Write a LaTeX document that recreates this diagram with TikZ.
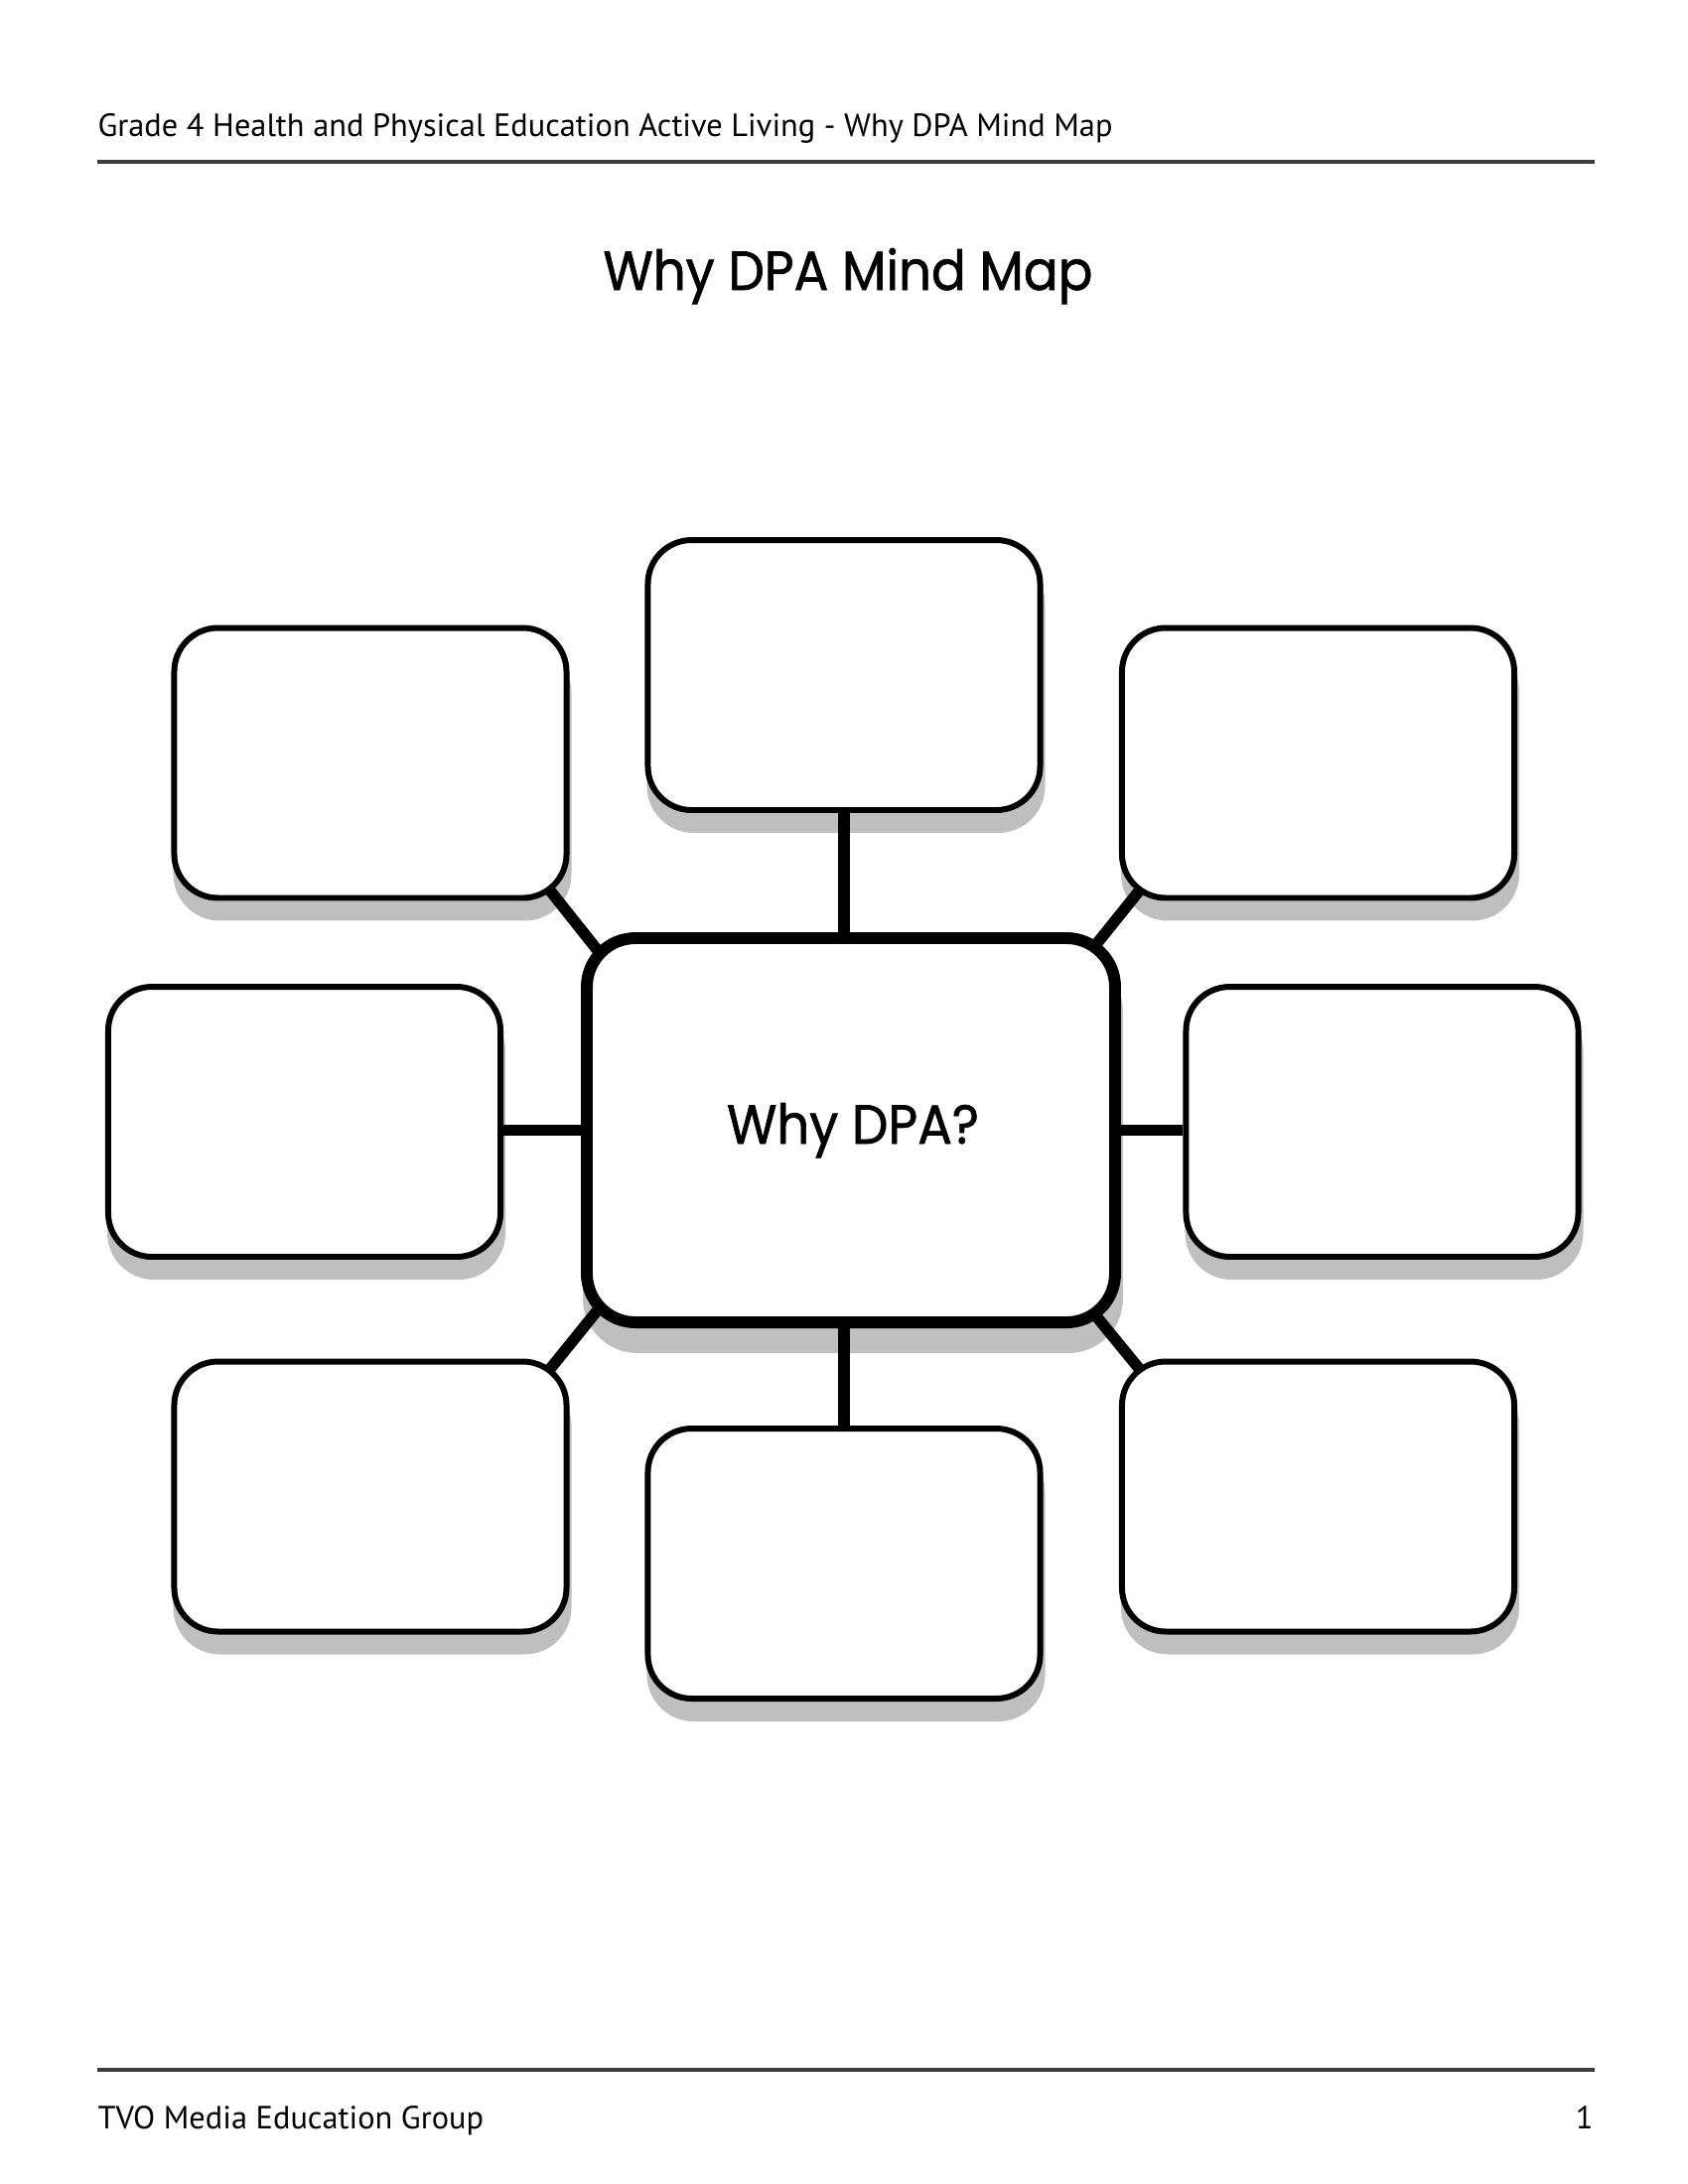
\documentclass[tikz,border=0pt]{standalone}
\usepackage{fontspec}
\setmainfont{PT Sans}
\newfontfamily\geo{Poppins}[FakeBold=1.2, FakeStretch=0.93]
\usetikzlibrary{calc}
\definecolor{shgray}{HTML}{BFBFBF}
\definecolor{rulegray}{HTML}{3C3C3C}
\pgfdeclarelayer{shadow}
\pgfdeclarelayer{lines}
\pgfsetlayers{shadow,lines,main}
\begin{document}
\begin{tikzpicture}[x=0.127mm,y=-0.127mm,
  box/.style={draw=black, fill=white, line width=2.16pt, rounded corners=5.59mm,
    minimum width=50.17mm, minimum height=34.54mm, inner sep=0pt},
  hub/.style={draw=black, fill=white, line width=4.32pt, rounded corners=6.22mm,
    minimum width=67.56mm, minimum height=49.15mm, inner sep=0pt},
  link/.style={line width=4.1pt, draw=black},
  rulex/.style={line width=1.2pt, draw=rulegray},
  hdrtext/.style={inner sep=0pt, font=\fontsize{11.7}{14}\selectfont},
  geotext/.style={inner sep=0pt, font=\geo\fontsize{20}{24}\selectfont}]
\useasboundingbox (0,0) rectangle (1700,2200);

% header and footer
\node[hdrtext, anchor=base west] (hdr) at (98,137) {Grade 4 Health and Physical Education Active Living - Why DPA Mind Map};
\coordinate (hl1) at (98,163);
\coordinate (hl2) at (1606,163);
\draw[rulex] (hl1) -- (hl2);
\coordinate (fl1) at (98,2085);
\coordinate (fl2) at (1606,2085);
\draw[rulex] (fl1) -- (fl2);
\node[hdrtext, anchor=base west] (ftr) at (98,2144) {TVO Media Education Group};
\node[hdrtext, anchor=base east] (pg) at (1605,2144) {1};

% title
\node[geotext, anchor=base] (title) at (854,292) {Why DPA Mind Map};

% boxes
\node[hub] (c) at (857,1138.5) {};
\node[geotext, anchor=base] (ctext) at (859,1152) {Why DPA?};
\node[box] (t)  at (850,680) {};
\node[box] (b)  at (850,1575) {};
\node[box] (tl) at (373,768.5) {};
\node[box] (tr) at (1327.5,768.5) {};
\node[box] (l)  at (306.5,1130) {};
\node[box] (r)  at (1392,1130) {};
\node[box] (bl) at (373,1507.5) {};
\node[box] (br) at (1327.5,1507.5) {};

% shadows
\begin{pgfonlayer}{shadow}
  \foreach \n in {t,b,tl,tr,l,r,bl,br} {
    \fill[shgray, rounded corners=5.97mm] ($(\n.north west)+(2,20)$) rectangle ($(\n.south east)+(2,20)$);
  }
  \fill[shgray, rounded corners=6.98mm] ($(c.north west)+(2,25)$) rectangle ($(c.south east)+(2,25)$);
\end{pgfonlayer}

% connectors
\begin{pgfonlayer}{lines}
  \draw[link] (t.south) -- (t.south |- c.north);
  \draw[link] (b.north) -- (b.north |- c.south);
  \draw[link] (c.west) -- (c.west -| l.east);
  \draw[link] (c.east) -- (c.east -| r.west);
  \draw[link, shorten <=-1.5mm, shorten >=-1.5mm] ($(tl.south east)+(-20,-11)$) -- ($(c.north west)+(15,16)$);
  \draw[link, shorten <=-1.5mm, shorten >=-1.5mm] ($(tr.south west)+(21,-11)$) -- ($(c.north east)+(-24,11)$);
  \draw[link, shorten <=-1.5mm, shorten >=-1.5mm] ($(bl.north east)+(-20,11)$) -- ($(c.south west)+(15,-16)$);
  \draw[link, shorten <=-1.5mm, shorten >=-1.5mm] ($(br.north west)+(21,11)$) -- ($(c.south east)+(-24,-11)$);
\end{pgfonlayer}
\end{tikzpicture}
\end{document}
